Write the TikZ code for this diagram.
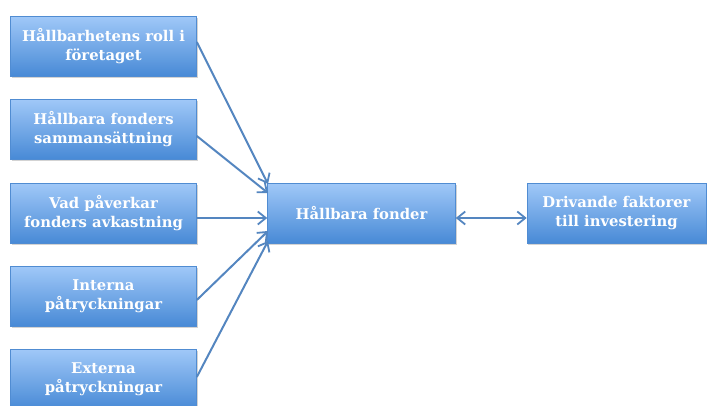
\documentclass[tikz,border=0pt]{standalone}
\usepackage{fontspec}
\setmainfont{DejaVu Serif}
\usetikzlibrary{arrows.meta,shadows}
\definecolor{boxtop}{RGB}{160,200,248}
\definecolor{boxbot}{RGB}{72,138,214}
\definecolor{boxline}{RGB}{80,140,210}
\definecolor{arrowc}{RGB}{84,134,192}
\tikzset{
  fbox/.style={rectangle, minimum width=186pt, minimum height=60pt, inner sep=2pt,
    top color=boxtop, bottom color=boxbot, draw=boxline, line width=0.6pt,
    drop shadow={shadow xshift=1pt, shadow yshift=-1.5pt, opacity=0.35},
    text=white, font=\fontsize{14.8}{19.5}\selectfont\bfseries, align=center},
  conn/.style={draw=arrowc, line width=2pt, -{Straight Barb[length=8pt,width=13pt,line width=1.8pt]}},
  dconn/.style={draw=arrowc, line width=2pt, {Straight Barb[length=8pt,width=13pt,line width=1.8pt]}-{Straight Barb[length=8pt,width=13pt,line width=1.8pt]}}
}
\begin{document}
\begin{tikzpicture}[x=1pt,y=1pt]
\useasboundingbox (0,0) rectangle (708,-405);
\node[fbox] (b1) at (103.5,-46) {Hållbarhetens roll i\\företaget};
\node[fbox] (b2) at (103.5,-129) {Hållbara fonders\\sammansättning};
\node[fbox] (b3) at (103.5,-213) {Vad påverkar\\fonders avkastning};
\node[fbox] (b4) at (103.5,-296) {Interna\\påtryckningar};
\node[fbox] (b5) at (103.5,-379) {Externa\\påtryckningar};
\node[fbox, minimum width=188pt] (c) at (361.5,-213) {Hållbara fonder};
\node[fbox, minimum width=179pt] (d) at (616.5,-213) {Drivande faktorer\\till investering};
\coordinate (t1) at (268,-184);
\coordinate (t2) at (268,-193);
\coordinate (t4) at (268,-231);
\coordinate (t5) at (268,-241);
\draw[conn] ([yshift=4pt]b1.east) -- (t1);
\draw[conn] ([yshift=-7pt]b2.east) -- (t2);
\draw[conn] ([yshift=-5pt]b3.east) -- ([yshift=-5pt]c.west);
\draw[conn] ([yshift=-4pt]b4.east) -- (t4);
\draw[conn] ([yshift=2pt]b5.east) -- (t5);
\draw[dconn] ([yshift=-5pt]c.east) -- ([yshift=-5pt]d.west);
\end{tikzpicture}
\end{document}
